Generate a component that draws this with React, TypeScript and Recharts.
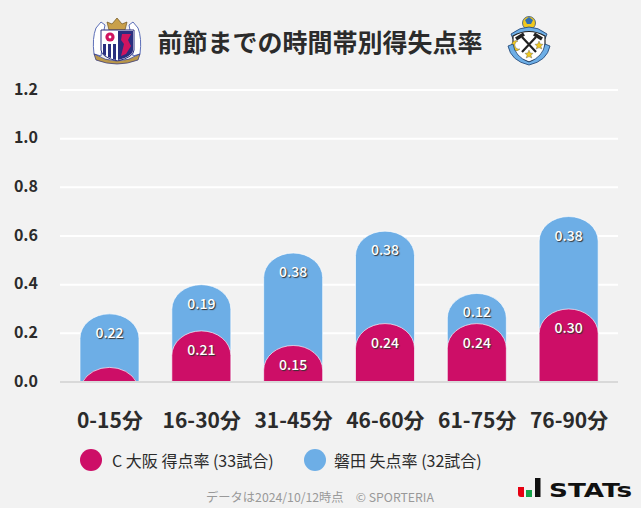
import { Bar, BarChart, CartesianGrid, LabelList, XAxis, YAxis } from "recharts";

const FONT = '"Noto Sans CJK JP", "Noto Sans", sans-serif';

const periods = ["0-15分", "16-30分", "31-45分", "46-60分", "61-75分", "76-90分"];
const scoredRate = [0.06, 0.21, 0.15, 0.24, 0.24, 0.3];
const concededRate = [0.22, 0.19, 0.38, 0.38, 0.124, 0.38];
const yTicks = [0, 0.2, 0.4, 0.6, 0.8, 1.0, 1.2];
const legendItems = [
  { name: "C 大阪 得点率 (33試合)", color: "#cd0e67", left: 80, gap: 10 },
  { name: "磐田 失点率 (32試合)", color: "#6daee6", left: 304, gap: 8 },
];

const data = periods.map((period, i) => ({
  period,
  scored: scoredRate[i],
  conceded: concededRate[i],
  total: scoredRate[i] + concededRate[i],
}));

// 上だけ楕円に丸めたバー（低いバーは楕円の途中で切る）
const DomeBar = (props: any) => {
  const { x, y, width, height, fill } = props;
  const rx = width / 2;
  const ry = 24.5;
  const bottom = y + height;
  let d: string;
  if (height >= ry) {
    d = `M${x},${bottom} L${x},${y + ry} A${rx},${ry} 0 0 1 ${x + width},${y + ry} L${x + width},${bottom} Z`;
  } else {
    const t = (ry - height) / ry;
    const inset = rx * (1 - Math.sqrt(1 - t * t));
    d = `M${x + inset},${bottom} A${rx},${ry} 0 0 1 ${x + width - inset},${bottom} Z`;
  }
  return <path d={d} fill={fill} stroke="rgba(255,255,255,0.65)" strokeWidth={1} />;
};

const RateLabel = (props: any) => {
  const { viewBox, value } = props;
  if (value < 0.1) return null;
  return (
    <text
      x={viewBox.x + viewBox.width / 2}
      y={viewBox.y + 24}
      textAnchor="middle"
      fontSize={14}
      fontWeight={500}
      fontFamily={FONT}
      fill="#fff"
      style={{ textShadow: "1px 1px 1px #333" }}
    >
      {value.toFixed(2)}
    </text>
  );
};

const CerezoCrest = () => (
  <svg width={52} height={52} viewBox="0 0 52 52" style={{ position: "absolute", left: 91, top: 16 }}>
    {/* 左右のグリフィン */}
    <path d="M3 38 Q1 22 5 12 L10 6 L14 9 L13 14 L10 40 Z" fill="#fff" stroke="#4b5fb0" strokeWidth={0.9} />
    <path d="M49 38 Q51 22 47 12 L42 6 L38 9 L39 14 L42 40 Z" fill="#fff" stroke="#4b5fb0" strokeWidth={0.9} />
    {/* 王冠 */}
    <path d="M18 14 L16 6 L21 8 L26 2 L31 8 L36 6 L34 14 Z" fill="#c9a04a" stroke="#6d5320" strokeWidth={0.7} />
    {/* 盾 */}
    <path d="M10 14 H43 V34 Q43 41 26.5 45 Q10 41 10 34 Z" fill="#fff" stroke="#2a2f7f" strokeWidth={1} />
    <path d="M27 15 H42 V34 Q42 40 27 44 Z" fill="#2a2f7f" />
    <path d="M31 18 H40 L37 24 L40 30 L35 38 L30 40 L33 28 L30 24 Z" fill="#d0145f" />
    <circle cx={19} cy={21} r={4.6} fill="#d0145f" />
    <circle cx={19} cy={21} r={1.4} fill="#fff" />
    <path d="M12 28 H15 V40 L12 38 Z M17 28 H20 V42 L17 41 Z M22 28 H25 V44 L22 43 Z" fill="#2a2f7f" />
    {/* 下のリボン */}
    <path d="M3 38 Q26 52 49 38 L47 44 Q26 52 5 44 Z" fill="#b9974a" stroke="#2a2f7f" strokeWidth={0.7} />
  </svg>
);

const JubiloCrest = () => (
  <svg width={48} height={52} viewBox="0 0 48 52" style={{ position: "absolute", left: 505, top: 15 }}>
    <circle cx={24} cy={8} r={6.5} fill="#f0c81e" stroke="#1c3f6e" strokeWidth={0.7} />
    <path d="M20 5 L24 2 L28 5 L26 9 H22 Z" fill="#2f6fb5" />
    <path d="M6 19 Q24 5 42 19 L40 24 Q24 12 8 24 Z" fill="#6daee6" stroke="#1c3f6e" strokeWidth={0.8} />
    <path d="M8 21 Q24 12 40 21 V33 Q40 43 24 47 Q8 43 8 33 Z" fill="#fff" stroke="#222" strokeWidth={1.2} />
    <path d="M17 22 L31 37 M31 22 L17 37" stroke="#222" strokeWidth={2.2} />
    <path d="M11 24 L19 19 M29 19 L37 24" stroke="#222" strokeWidth={3.6} />
    <path d="M13 26 A5 5 0 1 0 15 34 A4 4 0 1 1 13 26 Z" fill="#f0c81e" stroke="#555" strokeWidth={0.4} />
    <path d="M34 26 L35.3 29 L38 29.3 L36 31.3 L36.8 34 L34 32.6 L31.2 34 L32 31.3 L30 29.3 L32.7 29 Z" fill="#f0c81e" stroke="#555" strokeWidth={0.4} />
    <path d="M24 35 L25.3 38 L28 38.3 L26 40.3 L26.8 43 L24 41.6 L21.2 43 L22 40.3 L20 38.3 L22.7 38 Z" fill="#f0c81e" stroke="#555" strokeWidth={0.4} />
    <path d="M3 31 L8 29 Q10 42 24 47 Q38 42 40 29 L45 31 Q42 46 24 50 Q6 46 3 31 Z" fill="#6daee6" stroke="#1c3f6e" strokeWidth={0.8} />
  </svg>
);

const App = () => (
  <div
    style={{
      position: "absolute",
      left: 0,
      top: 0,
      width: 641,
      height: 508,
      overflow: "hidden",
      background: "#f2f2f2",
      fontFamily: FONT,
      color: "#2b2b2b",
    }}
  >
    <BarChart
      width={641}
      height={508}
      data={data}
      barSize={59}
      barGap={-59}
      margin={{ top: 90, right: 23, bottom: 96, left: 0 }}
    >
      <CartesianGrid vertical={false} stroke="#fff" strokeWidth={2} />
      <XAxis
        dataKey="period"
        height={30}
        interval={0}
        tickLine={false}
        axisLine={{ stroke: "#d9d9d9", strokeWidth: 2 }}
        tickMargin={25}
        padding={{ left: 4, right: 3 }}
        tick={{ fill: "#2b2b2b", fontSize: 21, fontWeight: 700, fontFamily: FONT }}
      />
      <YAxis
        width={60}
        domain={[0, 1.2]}
        ticks={yTicks}
        tickFormatter={(v: number) => v.toFixed(1)}
        tickLine={false}
        axisLine={false}
        tickMargin={16}
        tick={{ fill: "#2b2b2b", fontSize: 16, fontWeight: 700, fontFamily: FONT, dy: -1 }}
      />
      <Bar dataKey="total" fill="#6daee6" shape={<DomeBar />} isAnimationActive={false}>
        <LabelList dataKey="conceded" content={<RateLabel />} />
      </Bar>
      <Bar dataKey="scored" fill="#cd0e67" shape={<DomeBar />} isAnimationActive={false}>
        <LabelList dataKey="scored" content={<RateLabel />} />
      </Bar>
    </BarChart>

    <CerezoCrest />
    <JubiloCrest />
    <div style={{ position: "absolute", left: 120, width: 400, top: 22, textAlign: "center", fontSize: 25, fontWeight: 700, lineHeight: "38px" }}>
      前節までの時間帯別得失点率
    </div>

    {legendItems.map((item) => (
      <div key={item.name} style={{ position: "absolute", left: item.left, top: 449, display: "flex", alignItems: "center", height: 22, fontSize: 16, whiteSpace: "nowrap" }}>
        <span style={{ width: 22, height: 22, borderRadius: 11, background: item.color, marginRight: item.gap }} />
        {item.name}
      </div>
    ))}

    <div style={{ position: "absolute", left: 120, width: 400, top: 488, textAlign: "center", fontSize: 12.25, color: "#999", lineHeight: "18px", whiteSpace: "pre" }}>
      データは2024/10/12時点　© SPORTERIA
    </div>

    <svg width={24} height={21} viewBox="0 0 24 21" style={{ position: "absolute", left: 517, top: 477 }}>
      <path d="M1 10 H7 V20 H4 Q1 20 1 17 Z" fill="#e60012" />
      <rect x={9} y={13} width={6} height={7} fill="#16a34a" />
      <rect x={18} y={1} width={5.5} height={19} fill="#111" />
    </svg>
    <div style={{ position: "absolute", left: 549, top: 477, fontSize: 19, fontWeight: 700, fontFamily: '"DejaVu Sans", sans-serif', color: "#111", lineHeight: "26px", transform: "scaleX(1.38)", transformOrigin: "left center" }}>
      STATs
    </div>
  </div>
);

export default App;
